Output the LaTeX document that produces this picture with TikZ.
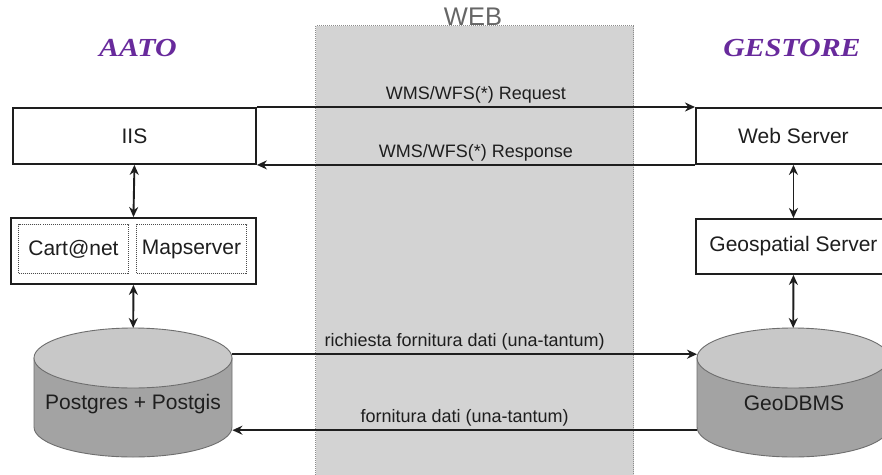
\documentclass[tikz,border=0pt]{standalone}
\usepackage{fontspec}
\setmainfont{Liberation Sans}
\newfontfamily\titlefont[FakeStretch=1.15]{Liberation Serif}
\usetikzlibrary{arrows.meta,calc}

\definecolor{titlepurple}{RGB}{104,42,156}
\definecolor{webfill}{RGB}{211,211,211}
\definecolor{webedge}{RGB}{140,140,140}
\definecolor{ink}{RGB}{30,30,30}
\definecolor{dbtop}{RGB}{200,200,200}
\definecolor{dbside}{RGB}{163,163,163}
\definecolor{dbedge}{RGB}{110,110,110}

\tikzset{
  box/.style={draw=ink, line width=1.9pt, fill=white, inner sep=0pt,
    anchor=north west, text=ink, font=\fontsize{21}{25}\selectfont},
  subbox/.style={draw=ink!80, densely dotted, line width=1pt, inner sep=0pt,
    anchor=north west, text=ink, font=\fontsize{21}{25}\selectfont},
  dbarea/.style={inner sep=0pt, anchor=north west},
  dblabel/.style={text=ink, font=\fontsize{21}{25}\selectfont},
  tip/.tip={Stealth[length=10pt,width=9pt]},
  flow/.style={draw=ink, line width=1.9pt, -tip},
  twoway/.style={draw=ink, line width=1.9pt, tip-tip},
  flowlabel/.style={above, inner sep=3pt, text=ink, font=\fontsize{18}{22}\selectfont},
  sidetitle/.style={text=titlepurple, font=\titlefont\bfseries\itshape\fontsize{26}{30}\selectfont},
}

\begin{document}
\begin{tikzpicture}[x=1pt, y=-1pt]
\useasboundingbox (0,0) rectangle (882,474);
\fill[white] (0,0) rectangle (882,474);

% the Internet band between the two sides
\node[dbarea, fill=webfill, draw=webedge, densely dotted, line width=1pt,
      minimum width=318pt, minimum height=470pt] (webzone) at (315,25) {};
\node[text=black!60, font=\fontsize{25.5}{30}\selectfont, anchor=base] (webtitle) at (473,25.5) {WEB};

% side titles
\node[sidetitle] (aato) at (138,48) {AATO};
\node[sidetitle] (gestore) at (792,48) {GESTORE};

% AATO side
\node[box, minimum width=243pt, minimum height=56pt] (iis) at (12,107) {IIS};
\node[box, minimum width=245pt, minimum height=66pt] (cart) at (10,217) {};
\node[subbox, minimum width=110pt, minimum height=49pt] (cartnet) at (18,224) {Cart@net};
\node[subbox, minimum width=110pt, minimum height=49pt] (mapserver) at (136,224) {Mapserver};

% Postgres cylinder
\fill[dbside, draw=dbedge, line width=0.9pt]
  (34,358) -- (34,427) arc[start angle=180, end angle=360, x radius=99pt, y radius=30pt]
  -- (232,358) -- cycle;
\filldraw[fill=dbtop, draw=dbedge, line width=0.9pt] (133,358) ellipse[x radius=99pt, y radius=30pt];
\node[dbarea, minimum width=198pt, minimum height=129pt] (pg) at (34,328) {};
\node[dblabel] (pgtext) at (133,404) {Postgres + Postgis};

% GESTORE side
\node[box, minimum width=195pt, minimum height=56pt] (websrv) at (695,107) {Web Server};
\node[box, minimum width=195pt, minimum height=55pt] (geosrv) at (695,218) {Geospatial Server};

% GeoDBMS cylinder
\fill[dbside, draw=dbedge, line width=0.9pt]
  (697,358) -- (697,427) arc[start angle=180, end angle=360, x radius=96pt, y radius=30pt]
  -- (889,358) -- cycle;
\filldraw[fill=dbtop, draw=dbedge, line width=0.9pt] (793,358) ellipse[x radius=96pt, y radius=30pt];
\node[dbarea, minimum width=192pt, minimum height=129pt] (geodb) at (697,328) {};
\node[dblabel] (geodbtext) at (794,403) {GeoDBMS};

% vertical links
\draw[twoway] (iis.south) -- (cart.north);
\draw[twoway] (cart.south) -- (pg.north);
\draw[twoway] (websrv.south) -- (geosrv.north);
\draw[twoway] (geosrv.south) -- (geodb.north);

% service traffic
\draw[flow] (iis.north east) -- node[flowlabel] {WMS/WFS(*) Request} (websrv.north west);
\draw[flow] (websrv.south west) -- node[flowlabel] {WMS/WFS(*) Response} (iis.south east);

% one-off data exchange
\draw[flow] ([yshift=38.5pt]pg.east) -- node[flowlabel] {richiesta fornitura dati (una-tantum)} ([yshift=38.5pt]geodb.west);
\draw[flow] ([yshift=-37.5pt]geodb.west) -- node[flowlabel] {fornitura dati (una-tantum)} ([yshift=-37.5pt]pg.east);
\end{tikzpicture}
\end{document}
